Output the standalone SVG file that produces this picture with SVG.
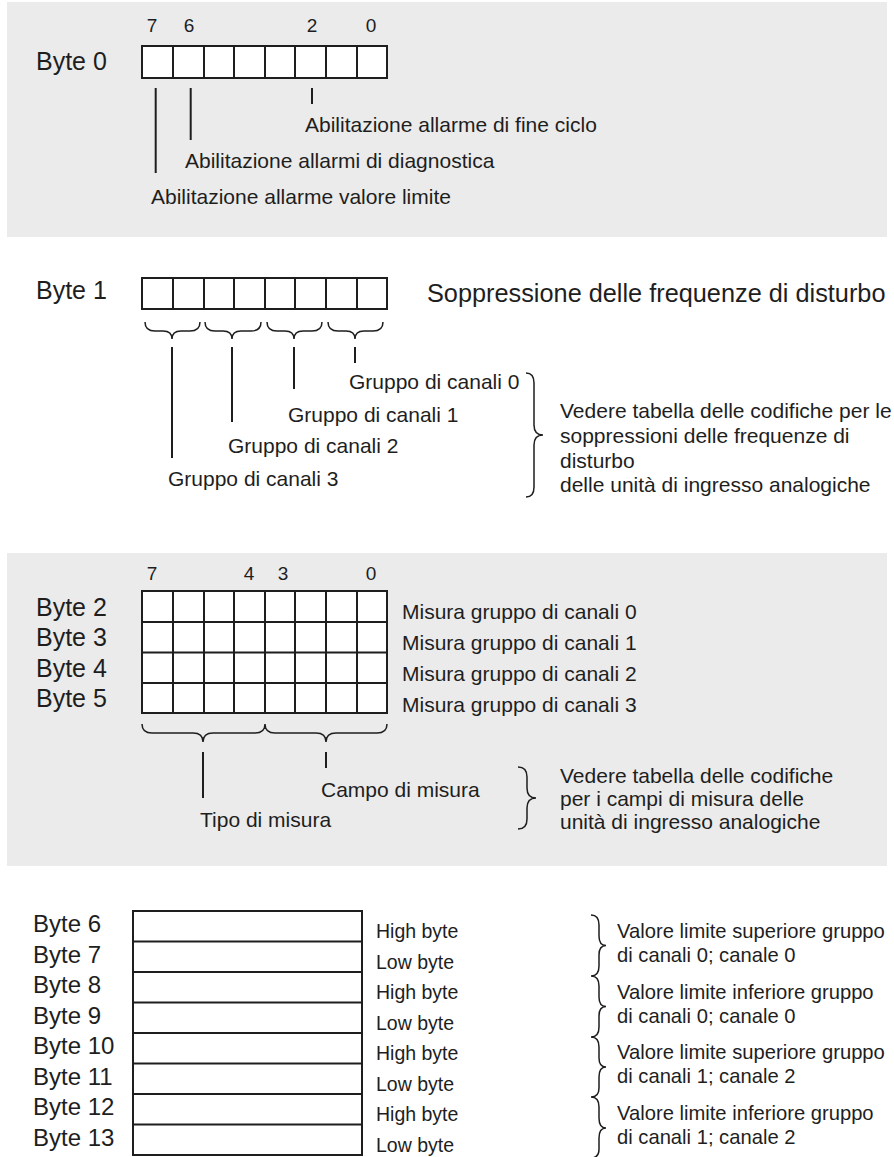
<svg xmlns="http://www.w3.org/2000/svg" width="894" height="1157" viewBox="0 0 894 1157">
<style>
text{font-family:"Liberation Sans",Arial,sans-serif;fill:#1e1e1e}
.b{font-size:25px}
.b2{font-size:24px}
.n{font-size:19px}
.t{font-size:21px}
.s{font-size:19.5px}
.v{font-size:20.2px}
.big{font-size:25.3px}
.box{fill:#fff;stroke:#1e1e1e;stroke-width:2}
.ln{stroke:#1e1e1e;stroke-width:2;fill:none}
.br{stroke:#1e1e1e;stroke-width:1.5;fill:none}
.panel{fill:#ebebeb}
</style>
<rect class="panel" x="7" y="2" width="880" height="235"/>
<rect class="panel" x="7" y="553" width="880" height="313"/>

<g id="byte0">
<text class="b" x="36" y="70">Byte 0</text>
<text class="n" x="152" y="32" text-anchor="middle">7</text>
<text class="n" x="189" y="32" text-anchor="middle">6</text>
<text class="n" x="312" y="32" text-anchor="middle">2</text>
<text class="n" x="371" y="32" text-anchor="middle">0</text>
<rect class="box" x="142" y="46" width="245" height="32"/>
<path class="ln" d="M173,46V78M204,46V78M234,46V78M265,46V78M295,46V78M326,46V78M357,46V78"/>
<text class="t" x="305" y="132">Abilitazione allarme di fine ciclo</text>
<text class="t" x="185" y="168">Abilitazione allarmi di diagnostica</text>
<text class="t" x="151" y="204">Abilitazione allarme valore limite</text>
</g>

<g id="byte1">
<text class="b" x="36" y="299">Byte 1</text>
<rect class="box" x="142" y="278" width="245" height="31"/>
<path class="ln" d="M173,278V309M204,278V309M234,278V309M265,278V309M295,278V309M326,278V309M357,278V309"/>
<text class="big" x="427" y="302">Soppressione delle frequenze di disturbo</text>
<text class="t" x="349" y="389">Gruppo di canali 0</text>
<text class="t" x="288" y="422">Gruppo di canali 1</text>
<text class="t" x="228" y="453">Gruppo di canali 2</text>
<text class="t" x="168" y="486">Gruppo di canali 3</text>
<text class="t" x="560" y="418">Vedere tabella delle codifiche per le</text>
<text class="t" x="560" y="443">soppressioni delle frequenze di</text>
<text class="t" x="560" y="468">disturbo</text>
<text class="t" x="560" y="492">delle unità di ingresso analogiche</text>
</g>

<g id="byte2-5">
<text class="n" x="152" y="580" text-anchor="middle">7</text>
<text class="n" x="249" y="580" text-anchor="middle">4</text>
<text class="n" x="283" y="580" text-anchor="middle">3</text>
<text class="n" x="371" y="580" text-anchor="middle">0</text>
<text class="b" x="36" y="616">Byte 2</text>
<text class="b" x="36" y="646">Byte 3</text>
<text class="b" x="36" y="677">Byte 4</text>
<text class="b" x="36" y="707">Byte 5</text>
<rect class="box" x="142" y="591" width="245" height="122"/>
<path class="ln" d="M173,591V713M204,591V713M234,591V713M265,591V713M295,591V713M326,591V713M357,591V713M142,622H387M142,652.5H387M142,683H387"/>
<text class="t" x="402" y="619">Misura gruppo di canali 0</text>
<text class="t" x="402" y="650">Misura gruppo di canali 1</text>
<text class="t" x="402" y="681">Misura gruppo di canali 2</text>
<text class="t" x="402" y="712">Misura gruppo di canali 3</text>
<text class="t" x="321" y="797">Campo di misura</text>
<text class="t" x="200" y="827">Tipo di misura</text>
<text class="t" x="560" y="783">Vedere tabella delle codifiche</text>
<text class="t" x="560" y="806">per i campi di misura delle</text>
<text class="t" x="560" y="829">unità di ingresso analogiche</text>
</g>

<g id="byte6-13">
<text class="b2" x="33" y="932">Byte 6</text>
<text class="b2" x="33" y="962.5">Byte 7</text>
<text class="b2" x="33" y="993">Byte 8</text>
<text class="b2" x="33" y="1023.5">Byte 9</text>
<text class="b2" x="33" y="1054">Byte 10</text>
<text class="b2" x="33" y="1084.5">Byte 11</text>
<text class="b2" x="33" y="1115">Byte 12</text>
<text class="b2" x="33" y="1145.5">Byte 13</text>
<rect class="box" x="133" y="911" width="229" height="244"/>
<path class="ln" d="M133,941.5H362M133,972H362M133,1002.5H362M133,1033H362M133,1063.5H362M133,1094H362M133,1124.5H362"/>
<text class="s" x="376" y="938">High byte</text>
<text class="s" x="376" y="968.5">Low byte</text>
<text class="s" x="376" y="999">High byte</text>
<text class="s" x="376" y="1029.5">Low byte</text>
<text class="s" x="376" y="1060">High byte</text>
<text class="s" x="376" y="1090.5">Low byte</text>
<text class="s" x="376" y="1121">High byte</text>
<text class="s" x="376" y="1151.5">Low byte</text>
<text class="v" x="617" y="938">Valore limite superiore gruppo</text>
<text class="v" x="617" y="962">di canali 0; canale 0</text>
<text class="v" x="617" y="998.5">Valore limite inferiore gruppo</text>
<text class="v" x="617" y="1022.5">di canali 0; canale 0</text>
<text class="v" x="617" y="1059">Valore limite superiore gruppo</text>
<text class="v" x="617" y="1083">di canali 1; canale 2</text>
<text class="v" x="617" y="1119.5">Valore limite inferiore gruppo</text>
<text class="v" x="617" y="1143.5">di canali 1; canale 2</text>
</g>

<g id="connectors">
<path class="ln" d="M155.7,88V173M190.7,88V140M312,88V104"/>
<path class="br" d="M145,322Q145,331 155,331H163Q172,331 172,339Q172,331 181,331H190Q200,331 200,322"/>
<path class="br" d="M205,322Q205,331 215,331H223Q232,331 232,339Q232,331 241,331H251Q261,331 261,322"/>
<path class="br" d="M267,322Q267,331 277,331H285Q294,331 294,339Q294,331 303,331H312Q322,331 322,322"/>
<path class="br" d="M328,322Q328,331 338,331H346Q355,331 355,339Q355,331 364,331H373Q383,331 383,322"/>
<path class="ln" d="M172,347V458M232,347V422M294,347V389M355,347V363"/>
<path class="br" d="M526,373Q534,373 534,383V425Q534,435 543,435Q534,435 534,445V487Q534,497 526,497"/>
<path class="br" d="M142,724Q142,733 152,733H193Q203,733 203,742Q203,733 213,733H255Q265,733 265,724Q265,733 275,733H316Q326,733 326,742Q326,733 336,733H377Q387,733 387,724"/>
<path class="ln" d="M203,752V798M326,752V768"/>
<path class="br" d="M518,767Q527,767 527,777V788Q527,798 536,798Q527,798 527,808V819Q527,829 518,829"/>
<path class="br" d="M591,915Q599,915 599,925V936Q599,945.5 606,945.5Q599,945.5 599,955V966Q599,976 591,976Q599,976 599,986V997Q599,1006.5 606,1006.5Q599,1006.5 599,1016V1027Q599,1037 591,1037Q599,1037 599,1047V1058Q599,1067 606,1067Q599,1067 599,1077V1088Q599,1097 591,1097Q599,1097 599,1107V1118Q599,1128 606,1128Q599,1128 599,1138V1149Q599,1158 591,1158"/>
</g>
</svg>
